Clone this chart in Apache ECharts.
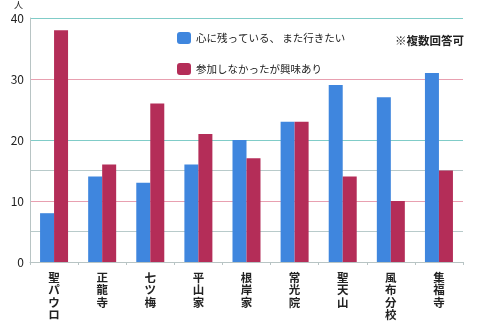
<!DOCTYPE html>
<html><head><meta charset="utf-8">
<script src="https://cdn.jsdelivr.net/npm/echarts@6/dist/echarts.min.js"></script>
<style>html,body{margin:0;padding:0;background:#fff}#c{width:480px;height:321px}</style>
</head><body><div id="c"></div>
<script>
const categories = ['聖パウロ','正龍寺','七ツ梅','平山家','根岸家','常光院','聖天山','風布分校','集福寺'];
const seriesNames = ['心に残っている、 また行きたい','参加しなかったが興味あり'];
const blueValues = [8,14,13,16,20,23,29,27,31];
const redValues = [38,16,26,21,17,23,14,10,15];
const yTickLabels = ['0','10','20','30','40'];

const FONT = '"Noto Sans CJK JP","Noto Sans",sans-serif';
const chart = echarts.init(document.getElementById('c'));
chart.setOption({
  animation:false,
  textStyle:{fontFamily:FONT},
  grid:{left:30,right:17,top:18,bottom:59},
  legend:{
    orient:'vertical', left:172, top:27, itemWidth:14, itemHeight:12, itemGap:19,
    textStyle:{fontSize:10.5,color:'#222',fontFamily:FONT},
    data:seriesNames
  },
  graphic:[
    {type:'text',left:395,top:35,style:{text:'※複数回答可',font:'bold 11.5px '+FONT,fill:'#222'}},
    {type:'text',left:14,top:0,style:{text:'人',font:'9px '+FONT,fill:'#222'}}
  ],
  xAxis:{
    type:'category', data:categories,
    axisLine:{lineStyle:{color:'#b8c4c4'}},
    axisTick:{show:true,lineStyle:{color:'#b8c4c4'},length:3},
    axisLabel:{
      interval:0, margin:9, fontSize:11.5, lineHeight:12.5, color:'#222', fontWeight:'bold',
      formatter:v=>v.split('').join('\n')
    }
  },
  yAxis:{
    type:'value', min:0, max:40, interval:5,
    axisLine:{show:true,lineStyle:{color:'#b8c4c4'}},
    axisTick:{show:false},
    axisLabel:{
      margin:6, fontSize:12, color:'#222',
      formatter:v=> (v%10===0 ? yTickLabels[v/10] : '')
    },
    splitLine:{lineStyle:{width:1,color:['#c8d0d0','#b8caca','#e8a0b0','#b8caca','#80ccc8','rgba(0,0,0,0)','#e8a0b0','rgba(0,0,0,0)','#80ccc8']}}
  },
  series:[
    {name:seriesNames[0],type:'bar',data:blueValues,barWidth:14,barGap:'0%',itemStyle:{color:'#3f86de'}},
    {name:seriesNames[1],type:'bar',data:redValues,barWidth:14,barGap:'0%',itemStyle:{color:'#b42d58'}}
  ]
});
</script></body></html>
